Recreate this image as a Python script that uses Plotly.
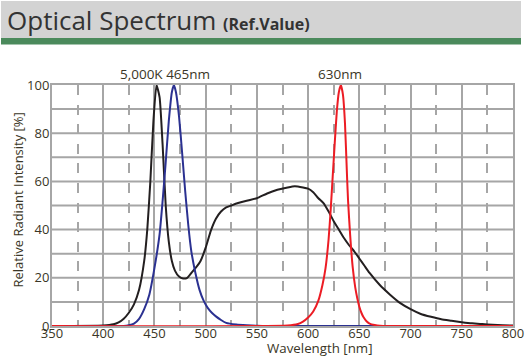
import plotly.graph_objects as go

# ---------------- data ----------------
white_nm = [350, 400, 410, 415, 420, 425, 430, 435, 440, 443, 446, 449, 452, 455, 458, 461, 464, 467, 470, 474,
            478, 482, 486, 490, 495, 500, 505, 510, 515, 520, 525, 530, 540, 550, 560, 570, 580, 587, 595, 600,
            605, 610, 615, 620, 625, 630, 635, 640, 645, 650, 655, 660, 670, 680, 690, 700, 710, 720, 730, 740,
            750, 760, 770, 780, 790, 800]
white_val = [0, 0.2, 0.7, 1.5, 3, 5.5, 9, 15, 27, 40, 60, 85, 100, 95, 75, 50, 35, 27, 23, 20.5,
             19.7, 20, 22, 24, 27, 32.5, 39.5, 44.5, 47.5, 49.2, 50, 50.8, 52, 53, 55, 56.5, 57.5, 58, 57.5, 57,
             55.5, 53, 51, 47.5, 43.5, 40, 36.5, 33.5, 31, 28, 25, 22, 17, 13, 9.5, 7, 5, 3.8, 2.8, 2.2,
             1.6, 1.1, 0.8, 0.5, 0.3, 0.2]

blue_nm = [350, 420, 425, 430, 435, 440, 445, 450, 455, 458, 461, 464, 467, 469, 471, 474, 477, 480, 483, 486,
           490, 494, 498, 502, 506, 510, 515, 520, 530, 540, 550, 560, 800]
blue_val = [0, 0, 0.3, 1, 3, 7, 13, 24, 38, 52, 68, 85, 97, 100, 97, 87, 72, 56, 42, 31,
            22, 15, 10.5, 7.5, 5.5, 4, 2.5, 1.3, 0.6, 0.3, 0.1, 0, 0]

red_nm = [350, 580, 590, 595, 600, 605, 610, 614, 617, 620, 622, 624, 626, 628, 630, 632, 634, 636, 638, 639,
          641, 643.5, 646, 648, 650, 652, 654, 657, 660, 665, 670, 680, 800]
red_val = [0, 0.2, 0.8, 1.8, 3.5, 6, 10.5, 17, 24, 36, 48, 62, 76, 89, 97, 100, 96, 84, 62, 52,
           38, 24.5, 16, 11.5, 8, 5.5, 3.7, 2, 1, 0.4, 0.1, 0, 0]

x_ticks = [350, 400, 450, 500, 550, 600, 650, 700, 750, 800]
y_ticks = [0, 20, 40, 60, 80, 100]
y_grid = [10, 20, 30, 40, 50, 60, 70, 80, 90]

peak_labels = ["5,000K 465nm", "630nm"]
peak_label_x = [460.5, 631.5]

# ---------------- figure ----------------
W, H = 525, 364
L, R, T, B = 52, 12, 85, 38
PW, PH = W - L - R, H - T - B

def px_x(p):
    return (p - L) / PW

def px_y(p):
    return (H - B - p) / PH

GRID = "#a6a6a6"
TXT = "#3a3626"
FONT = "Open Sans, Noto Sans, sans-serif"

fig = go.Figure()
fig.add_trace(go.Scatter(x=white_nm, y=white_val, mode="lines", line=dict(color="#231f20", width=2, shape="spline", smoothing=0.5), hoverinfo="skip"))
fig.add_trace(go.Scatter(x=blue_nm, y=blue_val, mode="lines", line=dict(color="#2b3191", width=2, shape="spline", smoothing=0.5), hoverinfo="skip"))
fig.add_trace(go.Scatter(x=red_nm, y=red_val, mode="lines", line=dict(color="#ec1c24", width=2, shape="spline", smoothing=0.5), hoverinfo="skip"))

# horizontal grid lines
for gy in y_grid:
    fig.add_shape(type="line", xref="paper", yref="y", x0=0, x1=1, y0=gy, y1=gy,
                  line=dict(color=GRID, width=2), layer="between")

# header bar
fig.add_shape(type="rect", xref="paper", yref="paper", x0=px_x(1), x1=px_x(521), y0=px_y(38), y1=px_y(1),
              fillcolor="#d3d3d3", line=dict(width=0), layer="below")
fig.add_shape(type="rect", xref="paper", yref="paper", x0=px_x(1), x1=px_x(521), y0=px_y(44.5), y1=px_y(38),
              fillcolor="#4b8a5c", line=dict(width=0), layer="below")

fig.add_annotation(xref="paper", yref="paper", x=px_x(5), y=px_y(20), xanchor="left", yanchor="middle",
                   text="Optical Spectrum <span style='font-size:16px'><b>(Ref.Value)</b></span>", showarrow=False,
                   font=dict(family=FONT, size=26, color="#333333"))

# peak labels
for lbl, lx in zip(peak_labels, peak_label_x):
    fig.add_annotation(x=lx, y=px_y(74), xref="x", yref="paper", text=lbl, showarrow=False,
                       xanchor="center", yanchor="middle", font=dict(family=FONT, size=13.5, color=TXT))

# axis titles
fig.add_annotation(xref="paper", yref="paper", x=px_x(320), y=px_y(348), text="Wavelength [nm]", showarrow=False,
                   xanchor="center", yanchor="middle", font=dict(family=FONT, size=13.3, color=TXT))
fig.add_annotation(xref="paper", yref="paper", x=px_x(17.5), y=px_y(200), text="Relative Radiant Intensity [%]",
                   showarrow=False, textangle=-90, xanchor="center", yanchor="middle",
                   font=dict(family=FONT, size=13, color=TXT))

fig.update_layout(
    width=W, height=H, margin=dict(l=L, r=R, t=T, b=B, autoexpand=False),
    paper_bgcolor="white", plot_bgcolor="white", showlegend=False,
    font=dict(family=FONT, color=TXT, size=13),
)
fig.update_xaxes(range=[350, 800], tickmode="array", tickvals=x_ticks, ticks="",
                 showgrid=True, gridcolor=GRID, gridwidth=2, zeroline=False,
                 showline=True, linecolor=GRID, linewidth=2, mirror=True,
                 minor=dict(tickmode="linear", tick0=375, dtick=50, showgrid=True, gridcolor=GRID, gridwidth=2,
                            griddash="10px,9.6px", ticks=""),
                 ticklabelstandoff=-6, tickfont=dict(size=13), automargin=False)
fig.update_yaxes(range=[0, 100], tickmode="array", tickvals=y_ticks, ticks="", showgrid=False,
                 zeroline=False, showline=True, linecolor=GRID, linewidth=2, mirror=True,
                 ticklabelstandoff=-2, tickfont=dict(size=13), automargin=False)

fig.write_html("out.html", post_script="document.body.style.margin='0';",
               config={"displayModeBar": False})
